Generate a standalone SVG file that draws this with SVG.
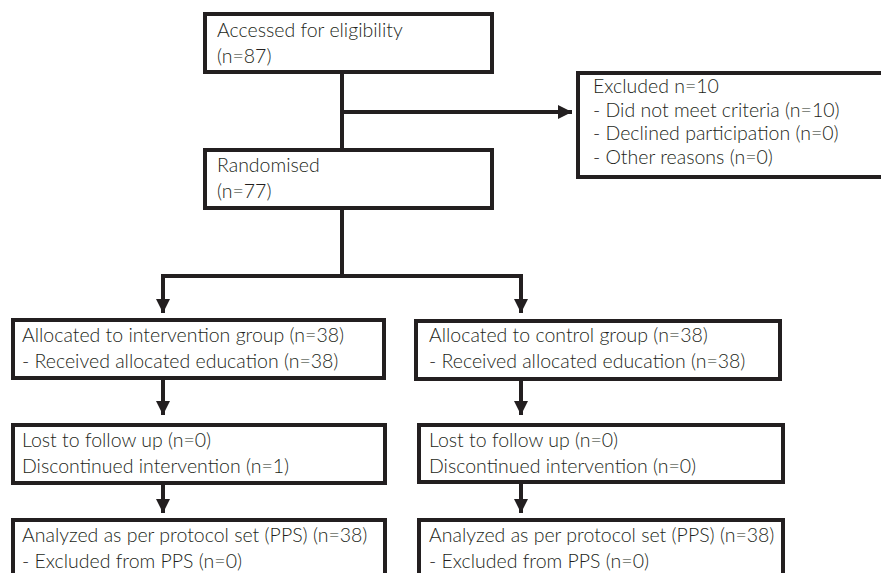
<svg xmlns="http://www.w3.org/2000/svg" width="881" height="573" viewBox="0 0 881 573">
<style>
.box{fill:#fff;stroke:#231f20;stroke-width:4}
.t{font-family:Lato,"Open Sans","Liberation Sans",sans-serif;font-weight:300;font-size:19.5px;fill:#231f20}
.c{fill:none;stroke:#231f20;stroke-width:4}
</style>
<defs>
<marker id="ah" markerUnits="userSpaceOnUse" markerWidth="14" markerHeight="14" viewBox="0 0 14 14" refX="14" refY="7" orient="auto">
<path d="M0,0 L14,7 L0,14 Z" fill="#231f20"/>
</marker>
</defs>
<rect width="881" height="573" fill="#fff"/>
<g id="connectors">
<path class="c" d="M342,72 V150"/>
<path class="c" d="M342,112 H572" marker-end="url(#ah)"/>
<path class="c" d="M342,208 V276"/>
<path class="c" d="M161,276 H523"/>
<path class="c" d="M163,274 V313" marker-end="url(#ah)"/>
<path class="c" d="M521,274 V313" marker-end="url(#ah)"/>
<path class="c" d="M163,378 V415" marker-end="url(#ah)"/>
<path class="c" d="M521,379 V415" marker-end="url(#ah)"/>
<path class="c" d="M163,483 V513" marker-end="url(#ah)"/>
<path class="c" d="M521,482 V513" marker-end="url(#ah)"/>
</g>
<g id="n1">
<rect class="box" x="205" y="14" width="287" height="58"/>
<text class="t" x="217" y="37">Accessed for eligibility</text>
<text class="t" x="217" y="63">(n=87)</text>
</g>
<g id="n2">
<rect class="box" x="578" y="73" width="310" height="104"/>
<text class="t" x="593" y="93">Excluded n=10</text>
<text class="t" x="593" y="116.5">- Did not meet criteria (n=10)</text>
<text class="t" x="593" y="140">- Declined participation (n=0)</text>
<text class="t" x="593" y="163.5">- Other reasons (n=0)</text>
</g>
<g id="n3">
<rect class="box" x="205" y="150" width="287" height="58"/>
<text class="t" x="217" y="172">Randomised</text>
<text class="t" x="217" y="198">(n=77)</text>
</g>
<g id="n4">
<rect class="box" x="13" y="320" width="371" height="58"/>
<text class="t" x="22" y="342">Allocated to intervention group (n=38)</text>
<text class="t" x="22" y="368">- Received allocated education (n=38)</text>
</g>
<g id="n5">
<rect class="box" x="416" y="321" width="364" height="58"/>
<text class="t" x="429" y="342">Allocated to control group (n=38)</text>
<text class="t" x="429" y="368">- Received allocated education (n=38)</text>
</g>
<g id="n6">
<rect class="box" x="13" y="425" width="372" height="58"/>
<text class="t" x="22" y="447">Lost to follow up (n=0)</text>
<text class="t" x="22" y="473">Discontinued intervention (n=1)</text>
</g>
<g id="n7">
<rect class="box" x="419" y="425" width="364" height="57"/>
<text class="t" x="429" y="447">Lost to follow up (n=0)</text>
<text class="t" x="429" y="473">Discontinued intervention (n=0)</text>
</g>
<g id="n8">
<rect class="box" x="13" y="520" width="372" height="70"/>
<text class="t" x="22" y="542">Analyzed as per protocol set (PPS) (n=38)</text>
<text class="t" x="22" y="568">- Excluded from PPS (n=0)</text>
</g>
<g id="n9">
<rect class="box" x="419" y="520" width="364" height="70"/>
<text class="t" x="429" y="542">Analyzed as per protocol set (PPS) (n=38)</text>
<text class="t" x="429" y="568">- Excluded from PPS (n=0)</text>
</g>
</svg>
